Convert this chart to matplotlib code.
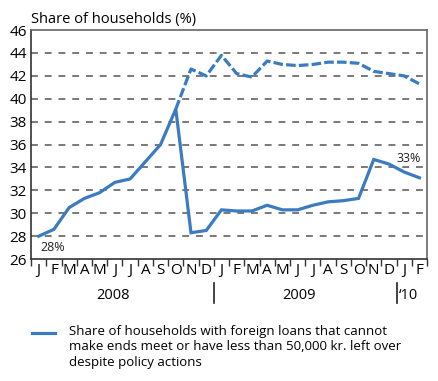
import matplotlib.pyplot as plt
from matplotlib.lines import Line2D

plt.rcParams['font.family'] = ['Open Sans', 'DejaVu Sans']

months = ['J', 'F', 'M', 'A', 'M', 'J', 'J', 'A', 'S', 'O', 'N', 'D',
          'J', 'F', 'M', 'A', 'M', 'J', 'J', 'A', 'S', 'O', 'N', 'D',
          'J', 'F']
years = ['2008', '2009', '\u201810']

# after policy actions (solid)
share_after = [28.0, 28.6, 30.5, 31.3, 31.8, 32.7, 33.0, 34.5, 36.0, 39.1,
               28.3, 28.5, 30.3, 30.2, 30.2, 30.7, 30.3, 30.3, 30.7, 31.0,
               31.1, 31.3, 34.7, 34.3, 33.6, 33.1]
# without policy actions (dashed), from October 2008
share_before = [39.1, 42.6, 42.0, 43.8, 42.2, 41.9, 43.3, 43.0, 42.9, 43.0,
                43.2, 43.2, 43.1, 42.4, 42.2, 42.0, 41.3]

blue = '#3a7bc2'
grey = '#555555'

fig = plt.figure(figsize=(4.38, 3.81), dpi=100)
ax = fig.add_axes([0.071, 0.32, 0.904, 0.601])

x = [i + 0.5 for i in range(len(share_after))]
x_dash = x[9:]
ax.plot(x, share_after, color=blue, lw=2.3, solid_joinstyle='miter')
ax.plot(x_dash, share_before, color=blue, lw=2.3, dashes=(3.0, 1.0))

for v in range(28, 46, 2):
    ax.axhline(v, color=grey, lw=1.1, dashes=(4.5, 4.5), zorder=0)

ax.set_xlim(0, 26)
ax.set_ylim(26, 46)
ax.set_yticks(range(26, 47, 2))
ax.tick_params(axis='y', length=0, labelsize=11, pad=3)
ax.set_xticks(range(0, 27))
ax.set_xticklabels([])
ax.set_xticks(x, minor=True)
ax.set_xticklabels(months, minor=True)
ax.tick_params(axis='x', which='major', length=5, width=1, color='#333333', direction='out')
ax.tick_params(axis='x', which='minor', length=0, labelsize=11, pad=3)

for s in ['left', 'bottom']:
    ax.spines[s].set_color('#333333')
    ax.spines[s].set_linewidth(1.2)
for s in ['top', 'right']:
    ax.spines[s].set_color('#666666')
    ax.spines[s].set_linewidth(1.2)

ax.text(0, 46.3, 'Share of households (%)', fontsize=10.5, ha='left', va='bottom')
ax.text(0.6, 27.6, '28%', fontsize=9, ha='left', va='top', color='#222222')
ax.text(25.6, 34.2, '33%', fontsize=9, ha='right', va='bottom', color='#222222')

# year labels and separators below the month axis
trans = ax.get_xaxis_transform()
ax.text(5.4, -0.157, years[0], transform=trans, fontsize=10.5, ha='center', va='center')
ax.text(17.6, -0.157, years[1], transform=trans, fontsize=10.5, ha='center', va='center')
ax.text(24.15, -0.157, years[2], transform=trans, fontsize=10.5, ha='left', va='center')
for b in [12, 24]:
    ax.add_line(Line2D([b, b], [-0.105, -0.192], transform=trans, color='#222222',
                       lw=1.2, clip_on=False))

fig.add_artist(Line2D([0.073, 0.126], [0.126, 0.126], color=blue, lw=2.3))
fig.text(0.158, 0.148,
         'Share of households with foreign loans that cannot\n'
         'make ends meet or have less than 50,000 kr. left over\n'
         'despite policy actions',
         fontsize=9.5, ha='left', va='top', linespacing=1.25,
         transform=fig.transFigure)

fig.savefig('out.png', dpi=100)
